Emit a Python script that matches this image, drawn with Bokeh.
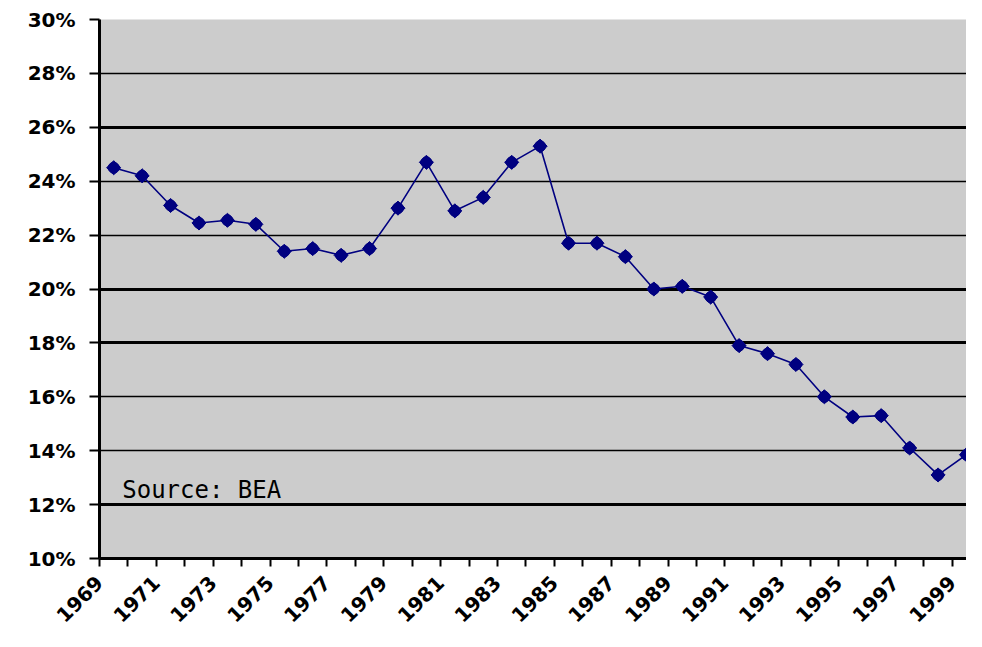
from bokeh.plotting import figure
from bokeh.models import FixedTicker, Range1d, Grid, Label, PrintfTickFormatter
from bokeh.embed import file_html
from bokeh.resources import INLINE

# ---- data ----
years = list(range(1969, 2000))
share = [24.5, 24.2, 23.1, 22.45, 22.55, 22.4, 21.4, 21.5, 21.25, 21.5,
         23.0, 24.7, 22.9, 23.4, 24.7, 25.3, 21.7, 21.7, 21.2, 20.0,
         20.1, 19.7, 17.9, 17.6, 17.2, 16.0, 15.25, 15.3, 14.1, 13.1, 13.85]
label_years = list(range(1969, 2000, 2))
y_ticks = list(range(10, 31, 2))
heavy_grid = [12, 18, 20, 26]
light_grid = [14, 16, 22, 24, 28]
source_note = "Source:  BEA"

NAVY = "#000080"

p = figure(width=966, height=631, output_backend="svg", toolbar_location=None,
           x_range=Range1d(years[0] - 0.5, years[-1]),
           y_range=Range1d(y_ticks[0], y_ticks[-1]),
           min_border_left=99, min_border_top=19, min_border_right=0,
           min_border_bottom=72,
           background_fill_color="#CCCCCC", border_fill_color="white")
p.outline_line_color = None

# category boundaries as ticks, labels on every other year
bounds = [y - 0.5 for y in years]
p.xaxis.ticker = FixedTicker(ticks=bounds)
p.xaxis.major_label_overrides = {b: (str(y) if y in label_years else "")
                                 for b, y in zip(bounds, years)}
p.xaxis.major_label_orientation = 0.785398
p.xaxis.major_label_text_font = "DejaVu Sans"
p.xaxis.major_label_text_font_style = "bold"
p.xaxis.major_label_text_font_size = "20px"
p.xaxis.major_label_text_color = "black"
p.xaxis.major_label_standoff = 13
p.xaxis.axis_line_width = 3
p.xaxis.axis_line_color = "black"
p.xaxis.major_tick_out = 8
p.xaxis.major_tick_in = 0
p.xaxis.major_tick_line_width = 2
p.xaxis.minor_tick_line_color = None

p.yaxis.ticker = FixedTicker(ticks=y_ticks)
p.yaxis.formatter = PrintfTickFormatter(format="%d%%")
p.yaxis.major_label_text_font = "DejaVu Sans"
p.yaxis.major_label_text_font_style = "bold"
p.yaxis.major_label_text_font_size = "20px"
p.yaxis.major_label_text_color = "black"
p.yaxis.major_label_standoff = 14
p.yaxis.axis_line_width = 3
p.yaxis.axis_line_color = "black"
p.yaxis.major_tick_out = 10
p.yaxis.major_tick_in = 0
p.yaxis.major_tick_line_width = 2
p.yaxis.minor_tick_line_color = None

p.xgrid.visible = False
p.ygrid.ticker = FixedTicker(ticks=light_grid)
p.ygrid.grid_line_color = "black"
p.ygrid.grid_line_width = 1.4
p.add_layout(Grid(dimension=1, ticker=FixedTicker(ticks=heavy_grid),
                  grid_line_color="black", grid_line_width=2.8))
p.add_layout(Grid(dimension=1, ticker=FixedTicker(ticks=[y_ticks[-1]]),
                  grid_line_color="#A0A0A0", grid_line_width=2))

p.line(years, share, line_color=NAVY, line_width=1.6)
p.scatter(years, share, marker="square", angle=0.785398, size=10,
          fill_color=NAVY, line_color=NAVY)
p.scatter(years, share, marker="circle", size=11,
          fill_color=NAVY, line_color=NAVY)

p.add_layout(Label(x=years[0] + 0.3, y=heavy_grid[0], y_offset=1,
                   text=source_note, text_font="DejaVu Sans Mono",
                   text_font_size="24px", text_color="black",
                   text_baseline="bottom"))

open("out.html", "w").write(file_html(p, INLINE))
